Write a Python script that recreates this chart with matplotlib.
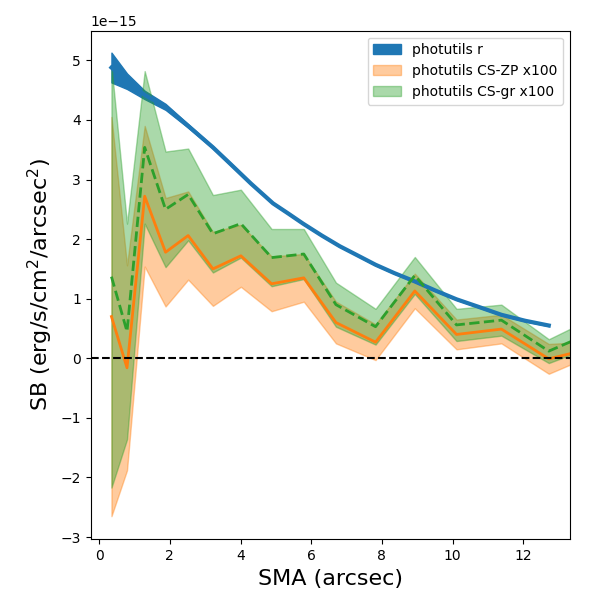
import numpy as np
import matplotlib
matplotlib.use("Agg")
import matplotlib.pyplot as plt

# semi-major axis (arcsec) for the CS profiles
sma = np.array([0.35, 0.79, 1.29, 1.88, 2.52, 3.22, 4.01, 4.88, 5.79, 6.70,
                7.82, 8.93, 10.11, 11.38, 12.72, 14.10])

# photutils r profile (units of 1e-15), finer sampling
sma_r = np.array([0.35, 0.79, 1.29, 1.88, 2.52, 3.22, 3.70, 4.30, 4.92, 5.35,
                  5.77, 6.30, 6.81, 7.30, 7.82, 8.35, 8.93, 9.50, 10.11, 10.75,
                  11.38, 12.05, 12.72])
sb_r = np.array([4.88, 4.65, 4.42, 4.22, 3.90, 3.54, 3.27, 2.93, 2.60, 2.43,
                 2.26, 2.06, 1.88, 1.73, 1.57, 1.43, 1.29, 1.14, 0.99, 0.86,
                 0.73, 0.63, 0.55])
sb_r_err = np.array([0.25, 0.13, 0.07, 0.05, 0.03, 0.02, 0.02, 0.015, 0.01, 0.01,
                     0.01, 0.01, 0.01, 0.01, 0.01, 0.01, 0.01, 0.01, 0.01, 0.01,
                     0.01, 0.01, 0.01])

# CS-ZP x100
sb_zp = np.array([0.70, -0.16, 2.72, 1.78, 2.06, 1.50, 1.72, 1.25, 1.35, 0.60,
                  0.27, 1.13, 0.40, 0.49, -0.01, 0.19])
sb_zp_err = np.array([3.35, 1.72, 1.18, 0.91, 0.74, 0.62, 0.52, 0.46, 0.40, 0.35,
                      0.30, 0.29, 0.25, 0.24, 0.25, 0.10])

# CS-gr x100
sb_gr = np.array([1.37, 0.45, 3.54, 2.50, 2.75, 2.09, 2.26, 1.69, 1.75, 0.90,
                  0.53, 1.39, 0.56, 0.64, 0.12, 0.475])
sb_gr_err = np.array([3.54, 1.81, 1.28, 0.97, 0.77, 0.65, 0.57, 0.48, 0.42, 0.37,
                      0.30, 0.31, 0.27, 0.26, 0.20, 0.245])

scale = 1e-15

fig = plt.figure(figsize=(6, 6), dpi=100)
ax = fig.add_axes([0.151, 0.101, 0.799, 0.848])

ax.fill_between(sma_r, (sb_r - sb_r_err) * scale, (sb_r + sb_r_err) * scale,
                color='C0', label='photutils r')
ax.plot(sma_r, sb_r * scale, color='C0', lw=3)

ax.fill_between(sma, (sb_zp - sb_zp_err) * scale, (sb_zp + sb_zp_err) * scale,
                color='C1', alpha=0.4, label='photutils CS-ZP x100')
ax.plot(sma, sb_zp * scale, color='C1', lw=2)

ax.fill_between(sma, (sb_gr - sb_gr_err) * scale, (sb_gr + sb_gr_err) * scale,
                color='C2', alpha=0.4, label='photutils CS-gr x100')
ax.plot(sma, sb_gr * scale, color='C2', lw=2, ls='--')

ax.axhline(0, color='k', ls='--', lw=1.5)

ax.set_xlim(-0.24, 13.32)
ax.set_ylim(-3.04e-15, 5.5e-15)
ax.set_xlabel('SMA (arcsec)', fontsize=16)
ax.set_ylabel(r'SB (erg/s/cm$^2$/arcsec$^2$)', fontsize=16)
ax.legend(loc='upper right')

fig.savefig('out.png', dpi=100)
